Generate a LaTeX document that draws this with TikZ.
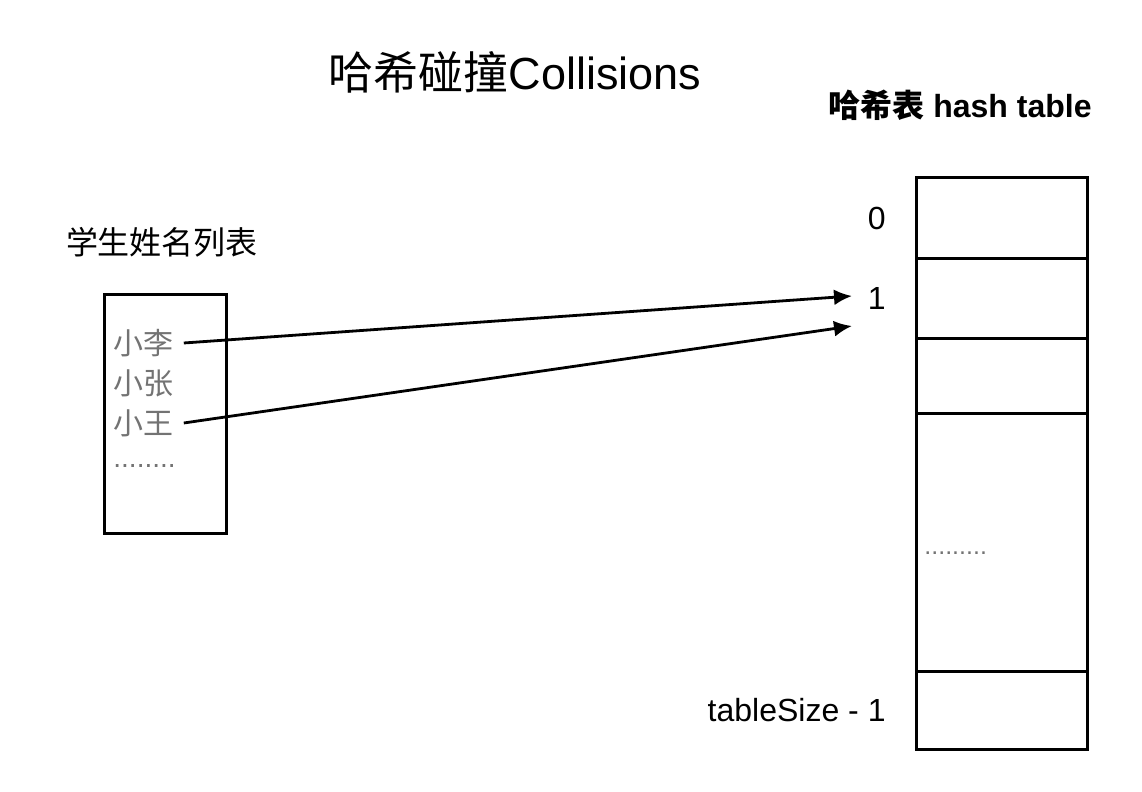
\documentclass[tikz,border=0pt]{standalone}
\usepackage{fontspec}
\setmainfont{Liberation Sans}
\newfontfamily\cjk{Noto Sans CJK SC}
\usetikzlibrary{arrows.meta,positioning}
\definecolor{namegray}{gray}{0.45}
\tikzset{
  cell/.style={rectangle, draw, line width=1.5pt, outer sep=0pt, inner sep=0pt, minimum width=85.5pt},
  listbox/.style={rectangle, draw, line width=1.5pt, minimum width=61pt, minimum height=119.5pt},
  stu/.style={anchor=west, inner sep=5pt, text=namegray, font=\fontsize{15}{15}\selectfont\cjk},
  idx/.style={inner sep=0pt, font=\fontsize{16}{16}\selectfont},
  dotrow/.style={text=namegray, inner sep=0pt},
  arr/.style={-{Latex[length=9pt,width=8pt]}, line width=1.4pt}
}

\begin{document}
\begin{tikzpicture}[x=0.5pt, y=-0.5pt, node distance=15pt]
\useasboundingbox (0,0) rectangle (1142,792);

% titles
\node (title) at (515,72) {\fontsize{22.5}{22.5}\selectfont{\cjk 哈希碰撞}Collisions};
\node (tabtitle) at (960,105) {\fontsize{16}{16}\selectfont\bfseries{\cjk 哈希表} hash table};

% student list
\node (listtitle) at (162,242) {\fontsize{16}{16}\selectfont\cjk 学生姓名列表};
\node[listbox] (list) at (165,413.5) {};
\node[stu] (li) at (103,343) {小李};
\node[stu] (zhang) at (103,383) {小张};
\node[stu] (wang) at (103,423) {小王};
\node[dotrow, anchor=west, font=\fontsize{14}{14}\selectfont] (more) at (113,466) {........};

% hash table
\node[cell, minimum height=40.5pt, anchor=north] (c0) at (1001.5,178) {};
\node[cell, minimum height=39.5pt, below=0pt of c0] (c1) {};
\node[cell, minimum height=37.5pt, below=0pt of c1] (c2) {};
\node[cell, minimum height=129pt, below=0pt of c2] (cmid) {};
\node[cell, minimum height=39pt, below=0pt of cmid] (cn) {};
\node[dotrow, font=\fontsize{12.5}{12.5}\selectfont, anchor=west] (tdots) at (924,553) {.........};

\node[idx, left=of c0, anchor=east] (i0) {0};
\node[idx, left=of c1, anchor=east] (i1) {1};
\node[idx, left=of cn, anchor=east] (iN) {tableSize - 1};

\coordinate (hit1) at (852,296);
\coordinate (hit2) at (852,326);
\draw[arr] (li.east) -- (hit1);
\draw[arr] (wang.east) -- (hit2);
\end{tikzpicture}
\end{document}
